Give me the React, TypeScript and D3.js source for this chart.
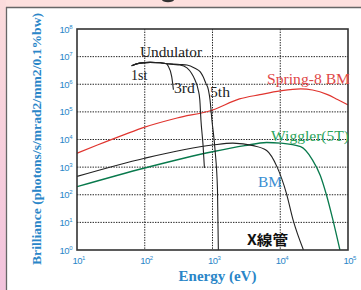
import React from "react";
import * as d3 from "d3";

// energies in eV, brilliance in photons/s/mrad2/mm2/0.1%bw
const springE = [10, 20, 50, 100, 300, 1000, 2500, 5000, 10000, 20000, 30000, 50000, 70000, 100000];
const springB = [3.2e3, 6.3e3, 1.5e4, 2.8e4, 6.0e4, 1.17e5, 2.95e5, 4.2e5, 5.75e5, 6.8e5, 6.2e5, 4.2e5, 2.8e5, 1.8e5];

const wigglerE = [10, 100, 1000, 3000, 6300, 10000, 20000, 30000, 39000, 48000, 60000, 76000];
const wigglerB = [195, 930, 3.6e3, 6.0e3, 7.8e3, 7.4e3, 5.5e3, 1.8e3, 500, 100, 12, 1];

const bmE = [10, 100, 1000, 2000, 4000, 6300, 9000, 12300, 15500, 22000];
const bmB = [460, 2.1e3, 6.3e3, 7.4e3, 6.0e3, 4.0e3, 1.0e3, 115, 12, 1];

const und1E = [64, 85, 120, 170, 210, 220, 250, 265];
const und1B = [4.7e6, 5.8e6, 6.2e6, 6.0e6, 5.5e6, 4.7e6, 1.9e6, 6.3e5];

const und3E = [64, 85, 120, 170, 210, 265, 330, 420, 490, 550, 615, 650, 675, 725, 760];
const und3B = [4.7e6, 5.8e6, 6.2e6, 6.0e6, 5.5e6, 5.2e6, 5.0e6, 3.9e6, 2.5e6, 1.45e6, 6.3e5, 2.7e5, 5.1e4, 6.3e3, 930];

const und5E = [64, 85, 120, 170, 210, 265, 330, 420, 550, 660, 725, 795, 870, 920, 980, 1090, 1185, 1220];
const und5B = [4.7e6, 5.8e6, 6.2e6, 6.0e6, 5.5e6, 5.4e6, 5.2e6, 5.0e6, 3.8e6, 2.8e6, 1.9e6, 1.1e6, 6.3e5, 2.7e5, 5.1e4, 4.2e3, 150, 1];

const xExps = [1, 2, 3, 4, 5];
const yExps = [0, 1, 2, 3, 4, 5, 6, 7, 8];

const W = 361;
const H = 290;
const margin = { top: 29, right: 13, bottom: 40, left: 77 };
const blue = "#2a86c8";

export default function App() {
  const iw = W - margin.left - margin.right;
  const ih = H - margin.top - margin.bottom;

  const x = d3.scaleLog().domain([10, 1e5]).range([0, iw]);
  const y = d3.scaleLog().domain([1, 1e8]).range([ih, 0]);

  const line = d3
    .line<[number, number]>()
    .x((d) => x(d[0]))
    .y((d) => y(d[1]))
    .curve(d3.curveMonotoneX);

  const zip = (es: number[], bs: number[]) => es.map((e, i) => [e, bs[i]] as [number, number]);

  const curves = [
    { d: zip(springE, springB), color: "#e0352f", w: 1.2 },
    { d: zip(wigglerE, wigglerB), color: "#08794c", w: 1.3 },
    { d: zip(bmE, bmB), color: "#222", w: 1.1 },
    { d: zip(und1E, und1B), color: "#222", w: 1.1 },
    { d: zip(und3E, und3B), color: "#222", w: 1.1 },
    { d: zip(und5E, und5B), color: "#222", w: 1.1 },
  ];

  const serif = "'Liberation Serif', 'DejaVu Serif', serif";
  const sans = "'Liberation Sans', Arial, sans-serif";

  return (
    <svg
      width={W}
      height={H}
      style={{ position: "absolute", left: 0, top: 0, background: "#fff" }}
    >
      <defs>
        <linearGradient id="side" x1="0" y1="0" x2="0" y2="1">
          <stop offset="0" stopColor="#fbdcdc" />
          <stop offset="1" stopColor="#f2c3dc" />
        </linearGradient>
        <clipPath id="plot">
          <rect x={0} y={0} width={iw} height={ih} />
        </clipPath>
      </defs>

      {/* frame */}
      <rect x={0} y={0} width={W} height={7} fill="#fde0de" />
      <rect x={0} y={0} width={6} height={H} fill="url(#side)" />
      <line x1={6} x2={W} y1={7.5} y2={7.5} stroke="#666" strokeWidth={1.3} />
      <line x1={6.5} x2={6.5} y1={7} y2={H} stroke="#666" strokeWidth={1.3} />
      {/* tail of the title letter above the crop */}
      <ellipse cx={168} cy={0} rx={6} ry={2.2} fill="#333" />

      <g transform={`translate(${margin.left},${margin.top})`}>
        {/* grid */}
        {xExps.slice(1, -1).map((e) => (
          <line
            key={"gx" + e}
            x1={x(10 ** e)}
            x2={x(10 ** e)}
            y1={0}
            y2={ih}
            stroke="#222"
            strokeWidth={1}
            strokeDasharray="1.4,1.2"
          />
        ))}
        {yExps.slice(1, -1).map((e) => (
          <line
            key={"gy" + e}
            x1={0}
            x2={iw}
            y1={y(10 ** e)}
            y2={y(10 ** e)}
            stroke="#222"
            strokeWidth={1}
            strokeDasharray="1.4,1.2"
          />
        ))}

        <g clipPath="url(#plot)">
          {curves.map((c, i) => (
            <path key={i} d={line(c.d) || ""} fill="none" stroke={c.color} strokeWidth={c.w} />
          ))}
        </g>

        <rect x={0} y={0} width={iw} height={ih} fill="none" stroke="#333" strokeWidth={1.6} />

        {/* y tick labels */}
        {yExps.map((e) => (
          <text
            key={"ty" + e}
            x={-5}
            y={y(10 ** e) + 3.5}
            textAnchor="end"
            fontFamily={sans}
            fontSize={9.5}
            fill={blue}
            letterSpacing={-0.5}
          >
            10
            <tspan fontSize={6} dy={-4}>
              {e}
            </tspan>
          </text>
        ))}

        {/* x tick labels */}
        {xExps.map((e) => (
          <text
            key={"tx" + e}
            x={x(10 ** e) - 4.5}
            y={ih + 14}
            fontFamily={sans}
            fontSize={9.5}
            fill={blue}
            letterSpacing={-0.5}
          >
            10
            <tspan fontSize={6} dy={-4}>
              {e}
            </tspan>
          </text>
        ))}

        {/* curve labels */}
        <text x={63} y={28} fontFamily={serif} fontSize={14} fill="#222" textLength={62} lengthAdjust="spacingAndGlyphs">
          Undulator
        </text>
        <text x={54} y={51} fontFamily={serif} fontSize={14} fill="#222">
          1st
        </text>
        <text x={97} y={64} fontFamily={serif} fontSize={14} fill="#222" textLength={21} lengthAdjust="spacingAndGlyphs">
          3rd
        </text>
        <text x={133} y={68} fontFamily={serif} fontSize={14} fill="#222" textLength={20} lengthAdjust="spacingAndGlyphs">
          5th
        </text>
        <text x={190} y={55} fontFamily={serif} fontSize={14} fill="#e04848" textLength={83} lengthAdjust="spacingAndGlyphs">
          Spring-8 BM
        </text>
        <text x={194} y={112} fontFamily={serif} fontSize={14} fill="#2aa35a" textLength={78} lengthAdjust="spacingAndGlyphs">
          Wiggler(5T)
        </text>
        <text x={181} y={158} fontFamily={serif} fontSize={14} fill="#3a8ed2" textLength={24} lengthAdjust="spacingAndGlyphs">
          BM
        </text>
        <text
          x={170}
          y={216}
          fontFamily="'Noto Sans CJK JP', sans-serif"
          fontWeight="bold"
          fontSize={14}
          fill="#111"
          textLength={41}
          lengthAdjust="spacingAndGlyphs"
        >
          X線管
        </text>

        {/* axis titles */}
        <text
          x={iw / 2 + 5}
          y={ih + 31}
          textAnchor="middle"
          fontFamily={serif}
          fontWeight="bold"
          fontSize={15}
          fill={blue}
        >
          Energy (eV)
        </text>
        <text
          transform={`translate(${41 - margin.left},${139 - margin.top}) rotate(-90)`}
          textAnchor="middle"
          fontFamily={serif}
          fontWeight="bold"
          fontSize={13}
          fill={blue}
          textLength={252}
          lengthAdjust="spacingAndGlyphs"
        >
          Brilliance (photons/s/mrad2/mm2/0.1%bw)
        </text>
      </g>
    </svg>
  );
}
